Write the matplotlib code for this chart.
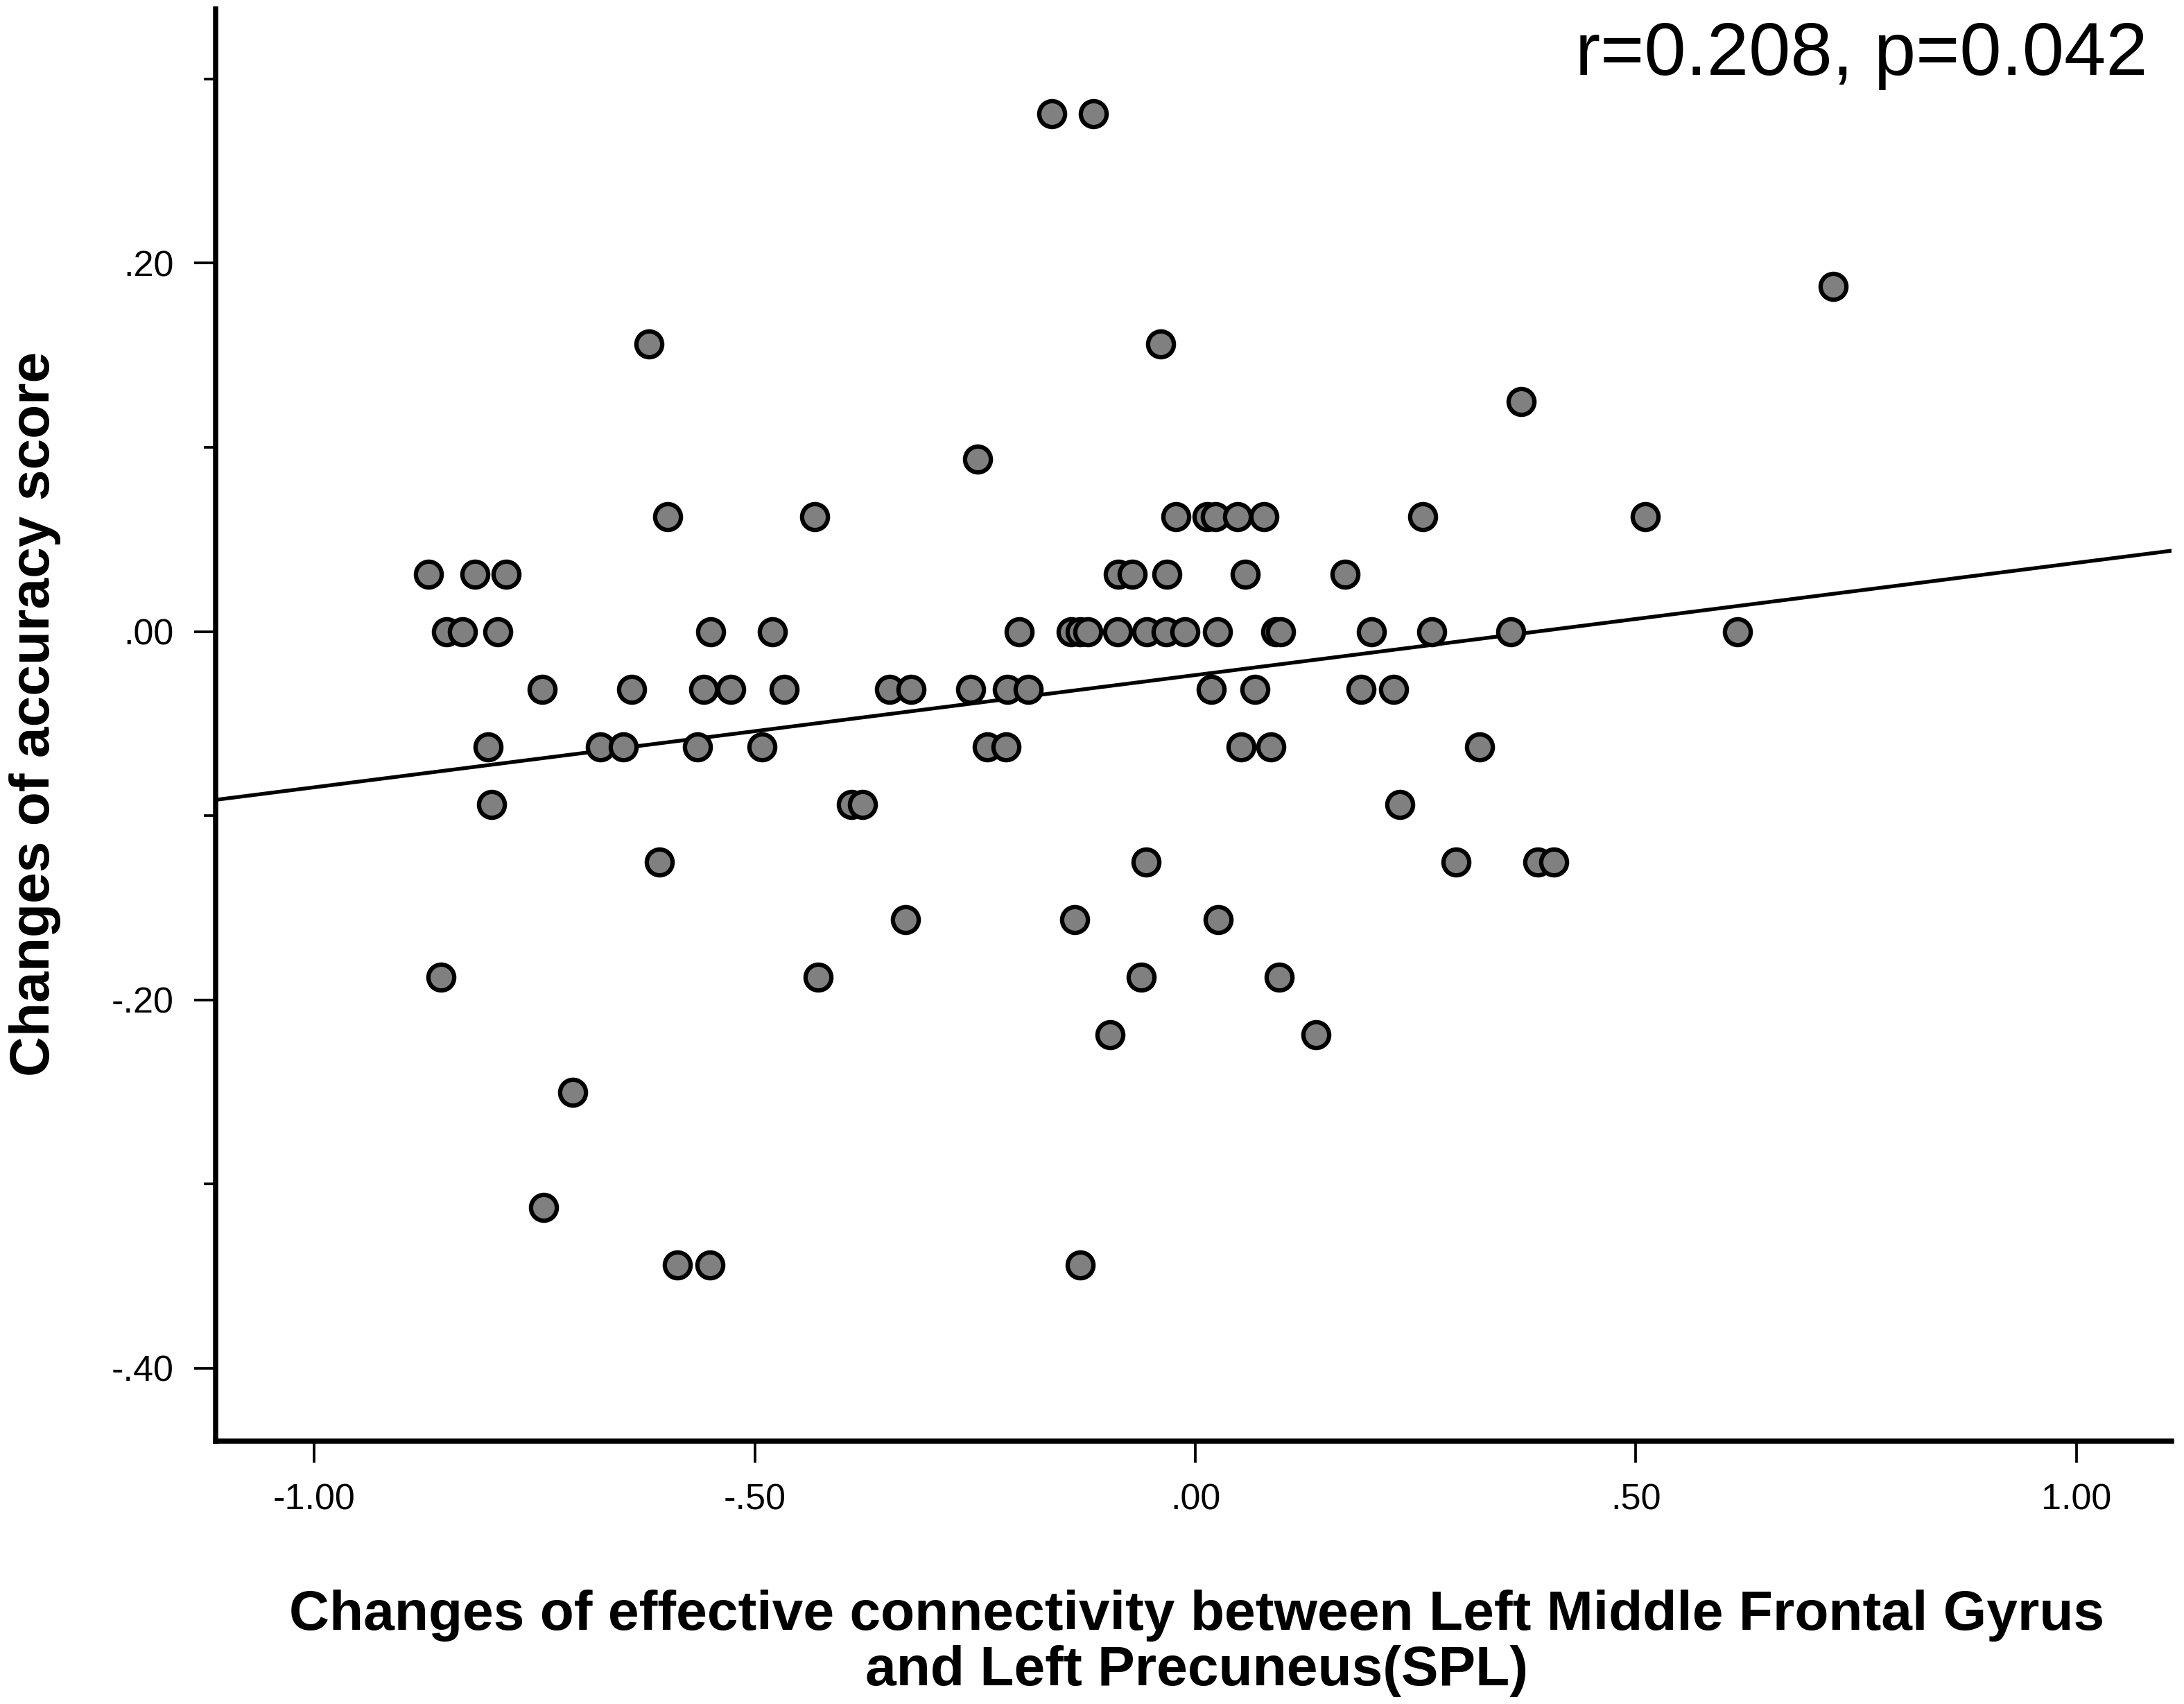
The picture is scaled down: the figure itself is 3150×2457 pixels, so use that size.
import numpy as np
import matplotlib
matplotlib.use("Agg")
import matplotlib.pyplot as plt
from matplotlib.ticker import FixedLocator

plt.rcParams['font.family'] = ['Liberation Sans', 'DejaVu Sans']

# accuracy score changes come in steps of 1/32; x values per row
acc_levels = [0.28125, 0.1875, 0.15625, 0.125, 0.09375, 0.0625, 0.03125, 0.0,
              -0.03125, -0.0625, -0.09375, -0.125, -0.15625, -0.1875,
              -0.21875, -0.25, -0.3125, -0.34375]
conn_by_level = [
    [-0.163, -0.116],
    [0.724],
    [-0.620, -0.039],
    [0.370],
    [-0.247],
    [-0.599, -0.432, -0.022, 0.013, 0.023, 0.048, 0.078, 0.258, 0.511],
    [-0.870, -0.818, -0.782, -0.087, -0.072, -0.032, 0.057, 0.170],
    [-0.850, -0.832, -0.792, -0.550, -0.480, -0.200, -0.141, -0.131, -0.122,
     -0.088, -0.055, -0.033, -0.012, 0.025, 0.091, 0.097, 0.200, 0.268,
     0.358, 0.615],
    [-0.741, -0.640, -0.558, -0.527, -0.467, -0.347, -0.323, -0.255, -0.213,
     -0.190, 0.018, 0.068, 0.188, 0.225],
    [-0.803, -0.675, -0.649, -0.565, -0.492, -0.236, -0.215, 0.052, 0.086, 0.323],
    [-0.799, -0.390, -0.378, 0.232],
    [-0.608, -0.056, 0.296, 0.389, 0.407],
    [-0.329, -0.137, 0.026],
    [-0.856, -0.428, -0.061, 0.095],
    [-0.097, 0.137],
    [-0.707],
    [-0.740],
    [-0.588, -0.551, -0.131],
]

xticks = [-1.0, -0.5, 0.0, 0.5, 1.0]
xticklabels = ['-1.00', '-.50', '.00', '.50', '1.00']
yticks = [-0.4, -0.2, 0.0, 0.2]
yticklabels = ['-.40', '-.20', '.00', '.20']
yminor = [-0.3, -0.1, 0.1, 0.3]
stats_text = 'r=0.208, p=0.042'
xlabel_lines = ['Changes of effective connectivity between Left Middle Frontal Gyrus',
                'and Left Precuneus(SPL)']
ylabel = 'Changes of accuracy score'

x = np.concatenate([np.array(v) for v in conn_by_level])
y = np.concatenate([np.full(len(v), lev) for v, lev in zip(conn_by_level, acc_levels)])

fig = plt.figure(figsize=(10.5, 8.19), dpi=300)
ax = fig.add_axes([0.0987, 0.1543, 0.8956, 0.8405])

xlim = (-1.112, 1.108)
ax.set_xlim(*xlim)
ax.set_ylim(-0.4395, 0.338)

ax.scatter(x, y, s=80, facecolor='#808080', edgecolor='black', linewidth=1.5, zorder=3)

# least-squares line through the points
slope, intercept = np.polyfit(x, y, 1)
xl = np.array(xlim)
ax.plot(xl, intercept + slope * xl, color='black', lw=1.3, zorder=2)

for s in ['top', 'right']:
    ax.spines[s].set_visible(False)
for s in ['left', 'bottom']:
    ax.spines[s].set_linewidth(1.8)

ax.set_xticks(xticks)
ax.set_xticklabels(xticklabels)
ax.set_yticks(yticks)
ax.set_yticklabels(yticklabels)
ax.yaxis.set_minor_locator(FixedLocator(yminor))
ax.tick_params(axis='both', which='major', direction='out', length=7.5, width=0.9,
               labelsize=12.5, pad=7)
ax.tick_params(axis='y', which='minor', direction='out', length=4, width=0.9)

fig.text(0.9835, 0.956, stats_text, ha='right', va='baseline', fontsize=26)
fig.text(0.5478, 0.04355, xlabel_lines[0], ha='center', va='baseline',
         fontsize=19.3, fontweight='bold')
fig.text(0.5478, 0.01099, xlabel_lines[1], ha='center', va='baseline',
         fontsize=19.3, fontweight='bold')
fig.text(0.004, 0.5812, ylabel, rotation=90, ha='left', va='center',
         fontsize=19.3, fontweight='bold')

fig.savefig('out.png', dpi=300)
